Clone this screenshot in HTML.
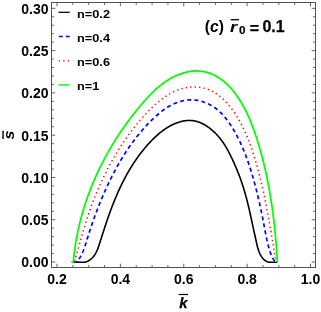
<!DOCTYPE html><html lang="en"><head><meta charset="utf-8"><title>plot</title><style>
html,body{margin:0;padding:0;background:#fff}
body{width:321px;height:312px;position:relative;overflow:hidden;font-family:"Liberation Sans",sans-serif;font-weight:bold;color:#000}
.t{position:absolute;white-space:nowrap;line-height:1;font-size:14px}
.yl{right:272.5px;text-align:right}
.lg{font-size:11px;left:77.3px;transform:scaleX(1.16);transform-origin:0 0}
#w{position:absolute;left:0;top:0;width:321px;height:312px;will-change:transform}
i{font-style:italic}

</style></head><body><div id="w">
<svg width="321" height="312" viewBox="0 0 321 312" style="position:absolute;left:0;top:0">
<g fill="none" stroke-linejoin="round">
<path d="M73.00 262.20L73.71 262.11L74.43 262.05L75.16 262.03L75.90 262.03L76.65 262.06L77.41 262.10L78.18 262.15L78.95 262.20L79.72 262.20L80.50 262.20L81.27 262.20L82.04 262.20L82.80 262.20L83.57 262.20L84.32 262.18L85.06 262.05L85.80 261.88L86.52 261.65L87.22 261.37L87.91 261.06L88.58 260.70L89.24 260.31L89.87 259.89L90.47 259.44L91.05 258.97L91.61 258.49L92.14 257.98L92.65 257.45L93.13 256.91L93.59 256.35L94.04 255.77L94.46 255.18L94.86 254.57L95.25 253.95L95.62 253.32L95.97 252.67L96.31 252.02L96.64 251.35L96.95 250.67L97.25 249.99L97.54 249.29L97.82 248.59L98.09 247.88L98.35 247.17L98.60 246.45L98.85 245.73L99.09 245.00L99.33 244.27L99.57 243.54L99.80 242.80L100.03 242.07L100.26 241.34L100.50 240.60L100.73 239.87L100.96 239.14L101.19 238.41L101.42 237.68L101.65 236.95L101.89 236.22L102.12 235.50L102.35 234.77L102.58 234.04L102.82 233.32L103.05 232.59L103.28 231.87L103.52 231.15L103.75 230.42L103.99 229.70L104.22 228.98L104.46 228.26L104.69 227.54L104.93 226.82L105.17 226.11L105.41 225.39L105.65 224.67L105.89 223.96L106.13 223.24L106.37 222.53L106.61 221.81L106.85 221.10L107.09 220.39L107.34 219.68L107.58 218.97L107.83 218.26L108.08 217.55L108.33 216.84L108.57 216.14L108.82 215.43L109.08 214.72L109.33 214.02L109.58 213.31L109.84 212.61L110.09 211.91L110.35 211.21L110.61 210.51L110.87 209.81L111.13 209.11L111.39 208.41L111.65 207.71L111.92 207.01L112.18 206.32L112.45 205.62L112.72 204.93L112.99 204.23L113.26 203.54L113.54 202.85L113.81 202.15L114.09 201.46L114.37 200.77L114.65 200.08L114.93 199.39L115.21 198.71L115.50 198.02L115.78 197.33L116.07 196.65L116.36 195.96L116.66 195.28L116.95 194.60L117.25 193.91L117.55 193.23L117.85 192.55L118.15 191.87L118.45 191.19L118.76 190.52L119.07 189.84L119.38 189.16L119.69 188.49L120.01 187.81L120.33 187.14L120.64 186.46L120.97 185.79L121.29 185.12L121.62 184.45L121.95 183.78L122.28 183.11L122.61 182.44L122.95 181.77L123.29 181.11L123.63 180.44L123.97 179.77L124.32 179.11L124.67 178.45L125.02 177.78L125.37 177.12L125.73 176.46L126.09 175.80L126.45 175.14L126.82 174.48L127.18 173.83L127.56 173.17L127.93 172.51L128.30 171.86L128.68 171.21L129.06 170.56L129.45 169.91L129.83 169.26L130.22 168.61L130.61 167.97L131.01 167.32L131.41 166.68L131.81 166.04L132.21 165.40L132.61 164.76L133.02 164.12L133.43 163.49L133.85 162.86L134.26 162.22L134.68 161.59L135.11 160.97L135.53 160.34L135.96 159.72L136.39 159.10L136.82 158.48L137.26 157.86L137.70 157.24L138.14 156.63L138.58 156.02L139.03 155.41L139.48 154.81L139.93 154.20L140.39 153.60L140.85 153.00L141.31 152.40L141.77 151.81L142.24 151.22L142.71 150.63L143.18 150.04L143.66 149.46L144.13 148.88L144.61 148.30L145.10 147.72L145.59 147.15L146.08 146.58L146.57 146.02L147.06 145.45L147.56 144.89L148.06 144.33L148.57 143.78L149.07 143.23L149.58 142.68L150.10 142.13L150.61 141.59L151.13 141.05L151.65 140.52L152.18 139.98L152.71 139.46L153.24 138.93L153.77 138.41L154.31 137.89L154.85 137.38L155.39 136.87L155.93 136.36L156.48 135.86L157.04 135.36L157.59 134.87L158.15 134.38L158.72 133.89L159.29 133.41L159.86 132.94L160.44 132.47L161.02 132.00L161.61 131.54L162.20 131.09L162.80 130.64L163.40 130.20L164.01 129.77L164.62 129.34L165.24 128.92L165.86 128.50L166.50 128.09L167.13 127.69L167.78 127.29L168.43 126.91L169.08 126.53L169.74 126.15L170.41 125.79L171.09 125.43L171.77 125.08L172.46 124.74L173.16 124.41L173.86 124.09L174.57 123.78L175.28 123.49L175.99 123.20L176.71 122.92L177.43 122.66L178.16 122.40L178.89 122.16L179.62 121.94L180.35 121.73L181.09 121.53L181.82 121.35L182.56 121.18L183.30 121.03L184.04 120.89L184.78 120.77L185.52 120.67L186.26 120.58L187.00 120.51L187.74 120.47L188.48 120.43L189.21 120.42L189.95 120.43L190.68 120.46L191.41 120.51L192.13 120.58L192.85 120.66L193.57 120.77L194.29 120.89L195.00 121.04L195.71 121.20L196.42 121.38L197.12 121.58L197.82 121.79L198.51 122.02L199.20 122.27L199.89 122.53L200.57 122.81L201.25 123.10L201.92 123.41L202.59 123.73L203.25 124.07L203.91 124.42L204.57 124.78L205.22 125.16L205.86 125.55L206.50 125.95L207.13 126.36L207.76 126.79L208.39 127.22L209.00 127.67L209.61 128.13L210.22 128.59L210.82 129.07L211.41 129.56L212.00 130.05L212.58 130.56L213.15 131.07L213.72 131.59L214.28 132.12L214.83 132.66L215.38 133.20L215.91 133.75L216.45 134.30L216.97 134.87L217.49 135.43L218.00 136.01L218.50 136.58L218.99 137.16L219.48 137.75L219.96 138.34L220.42 138.93L220.89 139.53L221.34 140.13L221.79 140.73L222.23 141.33L222.66 141.94L223.09 142.56L223.51 143.17L223.92 143.79L224.33 144.41L224.73 145.04L225.12 145.67L225.51 146.30L225.90 146.93L226.28 147.57L226.65 148.21L227.02 148.85L227.39 149.50L227.75 150.14L228.10 150.80L228.45 151.45L228.80 152.10L229.14 152.76L229.49 153.42L229.82 154.08L230.16 154.75L230.49 155.41L230.82 156.08L231.14 156.75L231.47 157.43L231.79 158.10L232.11 158.78L232.43 159.46L232.75 160.14L233.06 160.82L233.37 161.51L233.69 162.19L234.00 162.88L234.30 163.57L234.61 164.26L234.91 164.95L235.22 165.64L235.52 166.34L235.81 167.04L236.11 167.73L236.41 168.43L236.70 169.13L236.99 169.83L237.27 170.53L237.56 171.24L237.84 171.94L238.12 172.65L238.40 173.35L238.68 174.06L238.95 174.77L239.22 175.47L239.49 176.18L239.75 176.89L240.01 177.60L240.27 178.31L240.53 179.02L240.78 179.73L241.04 180.44L241.28 181.15L241.53 181.87L241.77 182.58L242.01 183.29L242.25 184.00L242.48 184.72L242.71 185.43L242.94 186.14L243.17 186.86L243.39 187.57L243.62 188.29L243.83 189.00L244.05 189.71L244.26 190.43L244.48 191.15L244.69 191.86L244.89 192.58L245.10 193.29L245.30 194.01L245.50 194.73L245.70 195.45L245.90 196.16L246.09 196.88L246.29 197.60L246.48 198.32L246.67 199.04L246.85 199.76L247.04 200.48L247.22 201.20L247.41 201.92L247.59 202.64L247.77 203.36L247.94 204.09L248.12 204.81L248.29 205.53L248.47 206.25L248.64 206.98L248.81 207.70L248.98 208.43L249.15 209.15L249.31 209.88L249.48 210.60L249.65 211.33L249.81 212.05L249.97 212.78L250.13 213.51L250.29 214.24L250.45 214.96L250.61 215.69L250.77 216.42L250.93 217.15L251.09 217.88L251.25 218.61L251.41 219.34L251.56 220.07L251.72 220.80L251.88 221.54L252.03 222.27L252.19 223.00L252.35 223.74L252.50 224.47L252.66 225.20L252.82 225.94L252.98 226.67L253.14 227.41L253.29 228.15L253.45 228.88L253.61 229.62L253.77 230.36L253.94 231.10L254.10 231.84L254.26 232.58L254.43 233.32L254.59 234.06L254.76 234.80L254.92 235.54L255.09 236.28L255.25 237.02L255.42 237.77L255.58 238.51L255.75 239.25L255.91 240.00L256.08 240.74L256.24 241.49L256.41 242.24L256.57 242.98L256.74 243.73L256.91 244.47L257.09 245.21L257.27 245.95L257.46 246.68L257.65 247.41L257.86 248.14L258.07 248.87L258.30 249.58L258.54 250.29L258.79 251.00L259.05 251.70L259.33 252.39L259.63 253.07L259.94 253.75L260.28 254.41L260.63 255.07L261.00 255.71L261.39 256.35L261.81 256.97L262.25 257.58L262.72 258.17L263.21 258.74L263.72 259.29L264.27 259.80L264.84 260.27L265.45 260.70L266.09 261.08L266.75 261.42L267.44 261.71L268.15 261.95L268.88 262.15L269.62 262.20L270.38 262.20L271.15 262.20L271.92 262.20L272.69 262.20L273.47 262.20L274.23 262.20L274.99 262.20L275.75 262.20L276.48 262.20L277.20 262.20" stroke="#000" stroke-width="1.6"/>
<path d="M75.90 262.20L76.53 261.30L77.12 260.77L77.67 260.24L78.20 259.69L78.69 259.13L79.16 258.55L79.60 257.97L80.02 257.37L80.42 256.76L80.79 256.14L81.15 255.51L81.48 254.88L81.81 254.23L82.12 253.57L82.42 252.91L82.70 252.23L82.99 251.55L83.26 250.87L83.53 250.17L83.79 249.48L84.05 248.77L84.30 248.06L84.55 247.35L84.80 246.63L85.04 245.91L85.28 245.18L85.51 244.45L85.75 243.72L85.98 242.99L86.21 242.26L86.44 241.52L86.66 240.79L86.89 240.05L87.11 239.32L87.34 238.58L87.56 237.85L87.79 237.12L88.02 236.39L88.24 235.66L88.47 234.94L88.70 234.21L88.93 233.49L89.16 232.77L89.39 232.05L89.62 231.33L89.85 230.62L90.09 229.90L90.32 229.19L90.56 228.47L90.79 227.76L91.03 227.05L91.27 226.34L91.51 225.64L91.75 224.93L91.99 224.23L92.23 223.52L92.47 222.82L92.72 222.11L92.96 221.41L93.21 220.71L93.46 220.01L93.71 219.31L93.95 218.61L94.21 217.91L94.46 217.22L94.71 216.52L94.97 215.82L95.22 215.13L95.48 214.43L95.74 213.73L96.00 213.04L96.26 212.34L96.52 211.65L96.78 210.95L97.05 210.26L97.31 209.56L97.58 208.87L97.85 208.17L98.12 207.48L98.39 206.78L98.67 206.09L98.94 205.39L99.22 204.70L99.50 204.00L99.77 203.31L100.05 202.61L100.34 201.92L100.62 201.23L100.91 200.53L101.19 199.84L101.48 199.15L101.77 198.46L102.06 197.76L102.35 197.07L102.65 196.38L102.94 195.69L103.24 195.00L103.54 194.31L103.84 193.62L104.14 192.93L104.44 192.24L104.75 191.55L105.05 190.86L105.36 190.18L105.67 189.49L105.98 188.80L106.29 188.12L106.61 187.43L106.92 186.75L107.24 186.06L107.56 185.38L107.88 184.70L108.20 184.02L108.52 183.34L108.85 182.66L109.17 181.98L109.50 181.30L109.83 180.62L110.16 179.94L110.50 179.27L110.83 178.59L111.17 177.92L111.51 177.24L111.85 176.57L112.19 175.90L112.53 175.23L112.88 174.56L113.22 173.89L113.57 173.22L113.92 172.55L114.27 171.88L114.62 171.22L114.98 170.55L115.34 169.89L115.69 169.23L116.05 168.57L116.42 167.91L116.78 167.25L117.14 166.59L117.51 165.94L117.88 165.28L118.25 164.63L118.62 163.97L119.00 163.32L119.37 162.67L119.75 162.02L120.13 161.38L120.51 160.73L120.89 160.08L121.28 159.44L121.66 158.80L122.05 158.16L122.44 157.52L122.83 156.88L123.23 156.24L123.62 155.61L124.02 154.97L124.42 154.34L124.82 153.71L125.23 153.08L125.63 152.45L126.04 151.82L126.45 151.20L126.86 150.57L127.28 149.95L127.69 149.33L128.11 148.71L128.53 148.09L128.95 147.47L129.38 146.86L129.81 146.24L130.23 145.63L130.67 145.02L131.10 144.41L131.53 143.81L131.97 143.20L132.41 142.60L132.85 141.99L133.30 141.39L133.74 140.79L134.19 140.20L134.64 139.60L135.10 139.01L135.55 138.41L136.01 137.82L136.47 137.23L136.93 136.65L137.40 136.06L137.86 135.48L138.33 134.90L138.81 134.32L139.28 133.74L139.76 133.16L140.24 132.59L140.72 132.01L141.20 131.44L141.69 130.87L142.18 130.31L142.67 129.74L143.16 129.18L143.66 128.62L144.16 128.06L144.66 127.50L145.17 126.94L145.67 126.39L146.18 125.84L146.70 125.29L147.21 124.74L147.73 124.20L148.25 123.65L148.77 123.11L149.30 122.57L149.82 122.03L150.36 121.50L150.89 120.96L151.43 120.43L151.96 119.90L152.51 119.37L153.05 118.85L153.60 118.33L154.15 117.81L154.70 117.29L155.26 116.78L155.82 116.27L156.38 115.76L156.95 115.25L157.52 114.76L158.09 114.26L158.66 113.77L159.24 113.28L159.83 112.80L160.41 112.33L161.01 111.86L161.60 111.39L162.20 110.93L162.80 110.48L163.41 110.03L164.02 109.59L164.63 109.16L165.25 108.73L165.87 108.31L166.50 107.90L167.13 107.49L167.77 107.10L168.41 106.71L169.05 106.33L169.70 105.95L170.36 105.59L171.02 105.24L171.68 104.89L172.35 104.55L173.03 104.23L173.71 103.91L174.39 103.60L175.08 103.31L175.78 103.02L176.48 102.75L177.18 102.48L177.89 102.23L178.61 101.99L179.33 101.76L180.05 101.54L180.77 101.34L181.50 101.14L182.24 100.96L182.97 100.79L183.71 100.64L184.45 100.50L185.19 100.37L185.94 100.25L186.68 100.15L187.43 100.07L188.18 99.99L188.93 99.94L189.68 99.89L190.42 99.86L191.17 99.85L191.92 99.85L192.67 99.87L193.41 99.91L194.16 99.96L194.90 100.02L195.64 100.10L196.38 100.20L197.12 100.31L197.86 100.44L198.59 100.58L199.32 100.73L200.05 100.90L200.77 101.08L201.49 101.28L202.21 101.49L202.93 101.72L203.64 101.95L204.34 102.20L205.04 102.46L205.74 102.74L206.43 103.03L207.12 103.33L207.80 103.64L208.48 103.96L209.15 104.30L209.82 104.64L210.48 105.00L211.13 105.37L211.78 105.75L212.42 106.14L213.06 106.54L213.68 106.95L214.30 107.37L214.92 107.80L215.52 108.24L216.12 108.69L216.71 109.15L217.29 109.61L217.87 110.09L218.44 110.57L219.00 111.07L219.55 111.57L220.09 112.08L220.63 112.59L221.16 113.12L221.69 113.65L222.21 114.18L222.72 114.73L223.22 115.28L223.72 115.84L224.22 116.40L224.70 116.97L225.18 117.55L225.66 118.13L226.13 118.72L226.59 119.31L227.05 119.91L227.50 120.51L227.94 121.12L228.39 121.73L228.82 122.35L229.25 122.97L229.68 123.59L230.10 124.22L230.52 124.85L230.93 125.49L231.34 126.13L231.74 126.77L232.14 127.41L232.53 128.06L232.92 128.70L233.31 129.35L233.69 130.01L234.07 130.66L234.45 131.31L234.82 131.97L235.19 132.63L235.56 133.29L235.92 133.95L236.28 134.61L236.63 135.27L236.98 135.94L237.33 136.60L237.67 137.27L238.02 137.94L238.35 138.61L238.69 139.28L239.02 139.96L239.35 140.63L239.68 141.31L240.00 141.98L240.32 142.66L240.63 143.34L240.95 144.02L241.26 144.70L241.56 145.38L241.87 146.07L242.17 146.75L242.47 147.44L242.77 148.13L243.06 148.82L243.35 149.51L243.64 150.20L243.92 150.89L244.21 151.58L244.49 152.28L244.76 152.97L245.04 153.67L245.31 154.36L245.58 155.06L245.85 155.76L246.11 156.46L246.37 157.16L246.63 157.86L246.89 158.57L247.15 159.27L247.40 159.97L247.65 160.68L247.90 161.39L248.15 162.09L248.39 162.80L248.64 163.51L248.88 164.22L249.12 164.93L249.35 165.64L249.59 166.35L249.82 167.07L250.05 167.78L250.28 168.49L250.51 169.21L250.73 169.92L250.96 170.64L251.18 171.36L251.40 172.07L251.62 172.79L251.83 173.51L252.05 174.23L252.26 174.95L252.47 175.67L252.68 176.39L252.89 177.11L253.10 177.84L253.31 178.56L253.51 179.28L253.72 180.01L253.92 180.73L254.12 181.46L254.32 182.18L254.52 182.91L254.71 183.63L254.91 184.36L255.10 185.09L255.30 185.81L255.49 186.54L255.68 187.27L255.87 188.00L256.05 188.73L256.24 189.46L256.42 190.19L256.61 190.92L256.79 191.65L256.97 192.38L257.15 193.11L257.33 193.84L257.51 194.57L257.69 195.30L257.86 196.04L258.04 196.77L258.21 197.50L258.38 198.23L258.55 198.97L258.72 199.70L258.89 200.43L259.06 201.17L259.23 201.90L259.39 202.63L259.56 203.37L259.72 204.10L259.88 204.84L260.04 205.57L260.20 206.30L260.36 207.04L260.52 207.77L260.68 208.51L260.84 209.24L260.99 209.98L261.15 210.71L261.30 211.45L261.45 212.18L261.60 212.91L261.76 213.65L261.91 214.38L262.06 215.12L262.20 215.85L262.35 216.59L262.50 217.32L262.64 218.06L262.79 218.79L262.93 219.52L263.08 220.26L263.22 220.99L263.36 221.72L263.50 222.46L263.65 223.19L263.79 223.92L263.92 224.66L264.06 225.39L264.20 226.12L264.34 226.85L264.48 227.58L264.61 228.32L264.75 229.05L264.89 229.78L265.02 230.51L265.16 231.24L265.30 231.97L265.44 232.70L265.58 233.43L265.73 234.16L265.87 234.89L266.02 235.63L266.17 236.36L266.32 237.09L266.47 237.82L266.63 238.55L266.78 239.28L266.95 240.01L267.11 240.74L267.28 241.47L267.45 242.20L267.62 242.93L267.80 243.66L267.99 244.39L268.17 245.12L268.36 245.85L268.56 246.58L268.76 247.31L268.97 248.04L269.18 248.77L269.39 249.51L269.62 250.24L269.85 250.97L270.08 251.70L270.32 252.43L270.57 253.16L270.82 253.90L271.08 254.63L271.36 255.35L271.65 256.06L271.96 256.76L272.29 257.45L272.64 258.12L273.02 258.76L273.43 259.38L273.87 259.97L274.35 260.53L274.87 261.05L275.43 261.54L276.04 261.98L276.69 262.20L277.39 262.20" stroke="#0000ff" stroke-width="1.7" stroke-dasharray="4.000 3.146" stroke-dashoffset="2.901"/>
<path d="M74.32 262.20L74.53 261.28L74.74 260.56L74.95 259.85L75.16 259.13L75.37 258.41L75.58 257.69L75.79 256.97L76.00 256.25L76.20 255.53L76.41 254.80L76.62 254.08L76.82 253.36L77.03 252.64L77.24 251.92L77.44 251.20L77.65 250.48L77.85 249.76L78.06 249.04L78.26 248.32L78.47 247.59L78.67 246.87L78.88 246.15L79.08 245.43L79.29 244.71L79.49 243.99L79.70 243.27L79.90 242.55L80.11 241.82L80.31 241.10L80.52 240.38L80.72 239.66L80.93 238.94L81.14 238.22L81.35 237.50L81.55 236.78L81.76 236.06L81.97 235.34L82.18 234.62L82.39 233.90L82.60 233.17L82.81 232.46L83.02 231.74L83.24 231.02L83.45 230.30L83.66 229.58L83.88 228.86L84.09 228.14L84.31 227.42L84.53 226.70L84.75 225.98L84.96 225.27L85.18 224.55L85.41 223.83L85.63 223.12L85.85 222.40L86.08 221.68L86.30 220.97L86.53 220.25L86.76 219.54L86.99 218.82L87.22 218.11L87.45 217.39L87.68 216.68L87.92 215.96L88.15 215.25L88.39 214.54L88.63 213.83L88.87 213.11L89.11 212.40L89.36 211.69L89.60 210.98L89.85 210.27L90.10 209.56L90.35 208.85L90.60 208.14L90.85 207.43L91.11 206.73L91.37 206.02L91.62 205.31L91.89 204.61L92.15 203.90L92.41 203.20L92.68 202.49L92.94 201.79L93.21 201.08L93.48 200.38L93.76 199.68L94.03 198.98L94.31 198.28L94.58 197.58L94.86 196.88L95.14 196.18L95.43 195.48L95.71 194.78L96.00 194.08L96.29 193.39L96.57 192.69L96.87 192.00L97.16 191.30L97.45 190.61L97.75 189.92L98.05 189.22L98.34 188.53L98.65 187.84L98.95 187.15L99.25 186.46L99.56 185.77L99.86 185.09L100.17 184.40L100.48 183.71L100.80 183.03L101.11 182.34L101.42 181.66L101.74 180.98L102.06 180.30L102.38 179.62L102.70 178.94L103.03 178.26L103.35 177.58L103.68 176.90L104.01 176.23L104.34 175.55L104.67 174.88L105.00 174.20L105.33 173.53L105.67 172.86L106.01 172.19L106.35 171.52L106.69 170.85L107.03 170.18L107.37 169.52L107.72 168.85L108.07 168.19L108.41 167.52L108.76 166.86L109.12 166.20L109.47 165.54L109.82 164.88L110.18 164.22L110.54 163.56L110.90 162.91L111.26 162.25L111.62 161.60L111.98 160.95L112.35 160.30L112.72 159.65L113.09 159.00L113.46 158.35L113.83 157.70L114.20 157.06L114.57 156.41L114.95 155.77L115.33 155.13L115.71 154.49L116.09 153.85L116.47 153.21L116.86 152.57L117.24 151.93L117.63 151.30L118.02 150.66L118.41 150.03L118.81 149.40L119.20 148.77L119.60 148.14L120.00 147.51L120.40 146.88L120.80 146.26L121.21 145.63L121.61 145.01L122.02 144.38L122.43 143.76L122.84 143.14L123.25 142.52L123.67 141.90L124.09 141.28L124.51 140.67L124.93 140.05L125.35 139.44L125.78 138.83L126.20 138.21L126.63 137.60L127.06 136.99L127.50 136.38L127.93 135.78L128.37 135.17L128.81 134.56L129.25 133.96L129.69 133.36L130.14 132.76L130.59 132.15L131.04 131.55L131.49 130.96L131.94 130.36L132.40 129.76L132.86 129.17L133.32 128.57L133.78 127.98L134.25 127.39L134.72 126.79L135.19 126.20L135.66 125.62L136.14 125.03L136.61 124.44L137.09 123.85L137.57 123.27L138.06 122.69L138.54 122.10L139.03 121.52L139.52 120.94L140.02 120.36L140.51 119.78L141.01 119.21L141.51 118.63L142.01 118.06L142.52 117.48L143.03 116.91L143.54 116.34L144.05 115.77L144.57 115.20L145.09 114.63L145.61 114.06L146.13 113.50L146.66 112.94L147.19 112.38L147.72 111.82L148.25 111.26L148.79 110.71L149.33 110.16L149.87 109.61L150.41 109.07L150.96 108.53L151.51 107.99L152.06 107.45L152.62 106.92L153.18 106.40L153.74 105.87L154.30 105.35L154.87 104.84L155.44 104.33L156.01 103.82L156.58 103.32L157.16 102.82L157.74 102.33L158.33 101.84L158.91 101.36L159.50 100.88L160.09 100.41L160.69 99.94L161.29 99.48L161.89 99.03L162.49 98.58L163.10 98.14L163.71 97.70L164.32 97.27L164.94 96.85L165.56 96.43L166.18 96.02L166.80 95.62L167.43 95.22L168.06 94.83L168.70 94.45L169.34 94.08L169.98 93.72L170.62 93.36L171.27 93.01L171.92 92.67L172.57 92.34L173.23 92.01L173.89 91.70L174.55 91.39L175.22 91.09L175.89 90.80L176.56 90.52L177.23 90.25L177.91 89.99L178.60 89.74L179.28 89.50L179.97 89.27L180.66 89.04L181.36 88.83L182.06 88.63L182.76 88.44L183.47 88.26L184.18 88.09L184.89 87.93L185.61 87.79L186.33 87.65L187.05 87.53L187.78 87.41L188.51 87.31L189.24 87.22L189.97 87.15L190.71 87.08L191.45 87.03L192.19 86.99L192.93 86.96L193.67 86.95L194.41 86.94L195.15 86.95L195.89 86.98L196.64 87.02L197.38 87.07L198.12 87.14L198.86 87.22L199.60 87.31L200.34 87.42L201.07 87.54L201.80 87.68L202.53 87.83L203.26 87.99L203.99 88.17L204.71 88.36L205.43 88.57L206.14 88.79L206.85 89.02L207.55 89.27L208.25 89.53L208.95 89.80L209.64 90.09L210.32 90.38L211.00 90.70L211.68 91.02L212.34 91.36L213.00 91.71L213.65 92.07L214.30 92.44L214.94 92.83L215.57 93.23L216.20 93.63L216.82 94.05L217.44 94.48L218.04 94.92L218.65 95.37L219.24 95.83L219.83 96.30L220.41 96.78L220.99 97.27L221.56 97.76L222.13 98.27L222.69 98.78L223.24 99.30L223.79 99.83L224.33 100.36L224.87 100.90L225.40 101.45L225.92 102.01L226.44 102.57L226.95 103.13L227.46 103.71L227.96 104.28L228.46 104.87L228.95 105.45L229.44 106.04L229.92 106.64L230.40 107.24L230.87 107.84L231.33 108.45L231.79 109.06L232.25 109.67L232.69 110.29L233.14 110.90L233.58 111.52L234.01 112.14L234.44 112.77L234.87 113.40L235.29 114.03L235.70 114.66L236.12 115.29L236.52 115.93L236.92 116.57L237.32 117.21L237.71 117.85L238.10 118.50L238.48 119.14L238.86 119.79L239.24 120.44L239.61 121.10L239.98 121.75L240.34 122.41L240.70 123.07L241.05 123.73L241.40 124.40L241.75 125.06L242.09 125.73L242.43 126.40L242.77 127.07L243.10 127.74L243.43 128.42L243.75 129.09L244.07 129.77L244.39 130.45L244.70 131.13L245.01 131.81L245.32 132.50L245.62 133.18L245.93 133.87L246.22 134.56L246.52 135.25L246.81 135.94L247.10 136.63L247.38 137.32L247.66 138.02L247.94 138.71L248.22 139.41L248.49 140.11L248.76 140.81L249.03 141.51L249.30 142.21L249.56 142.92L249.82 143.62L250.08 144.32L250.33 145.03L250.59 145.74L250.84 146.45L251.09 147.15L251.33 147.86L251.58 148.57L251.82 149.28L252.06 150.00L252.30 150.71L252.53 151.42L252.77 152.14L253.00 152.85L253.23 153.57L253.46 154.28L253.68 155.00L253.91 155.72L254.13 156.43L254.35 157.15L254.57 157.87L254.79 158.59L255.01 159.31L255.23 160.03L255.44 160.74L255.65 161.46L255.86 162.18L256.08 162.91L256.28 163.63L256.49 164.35L256.70 165.07L256.90 165.79L257.11 166.51L257.31 167.24L257.51 167.96L257.71 168.68L257.91 169.41L258.10 170.13L258.30 170.86L258.49 171.58L258.69 172.31L258.88 173.03L259.07 173.76L259.26 174.48L259.44 175.21L259.63 175.94L259.82 176.66L260.00 177.39L260.18 178.12L260.37 178.85L260.55 179.57L260.73 180.30L260.91 181.03L261.08 181.76L261.26 182.49L261.43 183.22L261.61 183.95L261.78 184.68L261.95 185.41L262.12 186.14L262.29 186.87L262.46 187.60L262.63 188.33L262.80 189.07L262.96 189.80L263.13 190.53L263.29 191.26L263.45 192.00L263.61 192.73L263.77 193.46L263.93 194.20L264.09 194.93L264.25 195.66L264.41 196.40L264.56 197.13L264.72 197.87L264.87 198.60L265.02 199.33L265.18 200.07L265.33 200.81L265.48 201.54L265.63 202.28L265.78 203.01L265.93 203.75L266.07 204.48L266.22 205.22L266.36 205.96L266.51 206.69L266.65 207.43L266.80 208.17L266.94 208.91L267.08 209.64L267.22 210.38L267.36 211.12L267.50 211.86L267.64 212.60L267.78 213.33L267.92 214.07L268.05 214.81L268.19 215.55L268.33 216.29L268.46 217.03L268.60 217.77L268.73 218.51L268.86 219.25L268.99 219.99L269.13 220.72L269.26 221.46L269.39 222.20L269.52 222.94L269.65 223.68L269.78 224.42L269.91 225.16L270.03 225.91L270.16 226.65L270.29 227.39L270.42 228.13L270.54 228.87L270.67 229.61L270.79 230.35L270.92 231.09L271.04 231.83L271.17 232.57L271.29 233.31L271.41 234.06L271.54 234.80L271.66 235.54L271.78 236.28L271.90 237.02L272.02 237.76L272.14 238.50L272.26 239.25L272.39 239.99L272.51 240.73L272.62 241.47L272.74 242.21L272.86 242.96L272.98 243.70L273.10 244.44L273.22 245.18L273.34 245.92L273.46 246.67L273.57 247.41L273.69 248.15L273.81 248.89L273.93 249.63L274.04 250.38L274.16 251.12L274.28 251.86L274.39 252.60L274.51 253.34L274.63 254.08L274.74 254.83L274.86 255.57L274.97 256.31L275.09 257.05L275.21 257.79L275.32 258.54L275.44 259.28L275.55 260.02L275.67 260.76L275.78 262.20" stroke="#ff0000" stroke-width="1.5" stroke-dasharray="1.300 3.163" stroke-dashoffset="3.697"/>
<path d="M71.30 262.20L73.30 262.20L73.37 261.45L73.44 260.70L73.51 259.94L73.58 259.19L73.66 258.43L73.74 257.68L73.82 256.93L73.90 256.17L73.98 255.42L74.07 254.67L74.16 253.92L74.25 253.17L74.34 252.42L74.44 251.67L74.54 250.92L74.64 250.17L74.74 249.42L74.84 248.68L74.95 247.93L75.06 247.18L75.17 246.44L75.28 245.69L75.39 244.95L75.51 244.20L75.63 243.46L75.75 242.72L75.87 241.97L76.00 241.23L76.13 240.49L76.25 239.75L76.39 239.01L76.52 238.27L76.66 237.53L76.79 236.79L76.93 236.05L77.08 235.32L77.22 234.58L77.37 233.84L77.52 233.11L77.67 232.37L77.82 231.64L77.97 230.90L78.13 230.17L78.29 229.44L78.45 228.70L78.61 227.97L78.78 227.24L78.94 226.51L79.11 225.78L79.29 225.05L79.46 224.32L79.63 223.60L79.81 222.87L79.99 222.14L80.17 221.42L80.36 220.69L80.54 219.97L80.73 219.24L80.92 218.52L81.11 217.80L81.30 217.07L81.50 216.35L81.70 215.63L81.89 214.91L82.10 214.19L82.30 213.47L82.51 212.75L82.71 212.04L82.92 211.32L83.13 210.60L83.35 209.89L83.56 209.17L83.78 208.46L84.00 207.74L84.22 207.03L84.44 206.32L84.67 205.61L84.90 204.89L85.13 204.18L85.36 203.47L85.59 202.76L85.82 202.06L86.06 201.35L86.30 200.64L86.54 199.94L86.78 199.23L87.03 198.52L87.28 197.82L87.52 197.12L87.77 196.41L88.03 195.71L88.28 195.01L88.54 194.31L88.79 193.61L89.05 192.91L89.32 192.21L89.58 191.51L89.85 190.82L90.11 190.12L90.38 189.43L90.65 188.73L90.93 188.04L91.20 187.34L91.48 186.65L91.76 185.96L92.04 185.27L92.32 184.58L92.60 183.89L92.89 183.20L93.18 182.51L93.47 181.82L93.76 181.13L94.05 180.45L94.35 179.76L94.65 179.08L94.95 178.39L95.25 177.71L95.55 177.03L95.85 176.35L96.16 175.67L96.47 174.99L96.78 174.31L97.09 173.63L97.40 172.95L97.72 172.28L98.03 171.60L98.35 170.92L98.67 170.25L99.00 169.58L99.32 168.90L99.65 168.23L99.97 167.56L100.30 166.89L100.63 166.22L100.97 165.55L101.30 164.88L101.64 164.22L101.98 163.55L102.32 162.88L102.66 162.22L103.00 161.55L103.35 160.89L103.70 160.23L104.04 159.57L104.39 158.91L104.75 158.25L105.10 157.59L105.46 156.93L105.81 156.27L106.17 155.62L106.53 154.96L106.90 154.31L107.26 153.65L107.63 153.00L107.99 152.35L108.36 151.69L108.73 151.04L109.11 150.39L109.48 149.75L109.86 149.10L110.23 148.45L110.61 147.80L110.99 147.16L111.38 146.51L111.76 145.87L112.15 145.23L112.54 144.59L112.92 143.94L113.32 143.30L113.71 142.67L114.10 142.03L114.50 141.39L114.90 140.75L115.29 140.12L115.70 139.48L116.10 138.85L116.50 138.22L116.91 137.58L117.31 136.95L117.72 136.32L118.13 135.69L118.55 135.06L118.96 134.44L119.37 133.81L119.79 133.19L120.21 132.56L120.63 131.94L121.05 131.31L121.47 130.69L121.90 130.07L122.33 129.45L122.75 128.83L123.18 128.21L123.61 127.60L124.05 126.98L124.48 126.36L124.92 125.75L125.35 125.14L125.79 124.52L126.23 123.91L126.67 123.30L127.12 122.69L127.56 122.08L128.01 121.48L128.46 120.87L128.91 120.26L129.36 119.66L129.81 119.05L130.26 118.45L130.72 117.85L131.18 117.25L131.64 116.65L132.10 116.05L132.56 115.45L133.02 114.86L133.48 114.26L133.95 113.66L134.42 113.07L134.89 112.48L135.36 111.89L135.83 111.29L136.30 110.70L136.78 110.12L137.25 109.53L137.73 108.94L138.21 108.35L138.69 107.77L139.17 107.19L139.66 106.60L140.14 106.02L140.63 105.44L141.12 104.86L141.61 104.28L142.10 103.71L142.59 103.13L143.08 102.56L143.58 101.98L144.08 101.41L144.58 100.84L145.08 100.28L145.59 99.71L146.09 99.15L146.60 98.59L147.11 98.03L147.62 97.48L148.14 96.93L148.65 96.38L149.17 95.83L149.70 95.28L150.22 94.74L150.75 94.20L151.28 93.67L151.81 93.14L152.35 92.61L152.88 92.09L153.42 91.56L153.97 91.05L154.51 90.53L155.06 90.02L155.62 89.52L156.17 89.02L156.73 88.52L157.29 88.03L157.86 87.54L158.43 87.06L159.00 86.58L159.58 86.10L160.16 85.63L160.74 85.17L161.32 84.71L161.91 84.26L162.51 83.81L163.11 83.36L163.71 82.93L164.31 82.49L164.92 82.07L165.53 81.65L166.15 81.23L166.77 80.82L167.40 80.42L168.03 80.02L168.66 79.63L169.30 79.25L169.94 78.87L170.59 78.50L171.24 78.14L171.90 77.78L172.56 77.43L173.23 77.09L173.90 76.75L174.57 76.42L175.25 76.10L175.94 75.79L176.62 75.48L177.32 75.18L178.02 74.89L178.72 74.61L179.42 74.34L180.13 74.07L180.84 73.82L181.56 73.57L182.28 73.34L183.00 73.11L183.72 72.89L184.45 72.69L185.18 72.49L185.91 72.31L186.64 72.13L187.38 71.97L188.11 71.82L188.85 71.67L189.59 71.55L190.33 71.43L191.07 71.33L191.81 71.23L192.55 71.15L193.29 71.09L194.03 71.03L194.78 70.99L195.52 70.97L196.26 70.95L197.00 70.95L197.73 70.97L198.47 71.00L199.21 71.04L199.94 71.10L200.67 71.18L201.41 71.27L202.13 71.37L202.86 71.49L203.59 71.62L204.31 71.76L205.03 71.92L205.74 72.09L206.46 72.28L207.17 72.47L207.88 72.68L208.58 72.91L209.28 73.14L209.98 73.39L210.67 73.65L211.36 73.92L212.04 74.21L212.72 74.50L213.40 74.81L214.07 75.13L214.74 75.46L215.40 75.80L216.05 76.15L216.70 76.51L217.35 76.88L217.99 77.26L218.62 77.65L219.25 78.05L219.87 78.46L220.49 78.88L221.10 79.31L221.70 79.75L222.30 80.20L222.89 80.65L223.48 81.12L224.06 81.59L224.63 82.07L225.20 82.56L225.76 83.05L226.31 83.55L226.86 84.07L227.40 84.58L227.94 85.11L228.47 85.64L229.00 86.18L229.52 86.72L230.04 87.27L230.55 87.83L231.05 88.39L231.55 88.96L232.04 89.53L232.53 90.11L233.01 90.69L233.49 91.28L233.96 91.88L234.43 92.47L234.89 93.08L235.35 93.68L235.80 94.29L236.25 94.91L236.69 95.53L237.12 96.15L237.56 96.77L237.98 97.40L238.41 98.03L238.82 98.66L239.24 99.30L239.65 99.94L240.05 100.58L240.45 101.22L240.84 101.87L241.23 102.51L241.62 103.16L242.00 103.81L242.38 104.47L242.75 105.12L243.12 105.78L243.49 106.44L243.85 107.10L244.20 107.76L244.56 108.43L244.90 109.09L245.25 109.76L245.59 110.43L245.93 111.10L246.26 111.78L246.59 112.45L246.92 113.13L247.24 113.80L247.56 114.48L247.88 115.17L248.19 115.85L248.50 116.53L248.80 117.22L249.11 117.91L249.41 118.59L249.70 119.28L249.99 119.97L250.28 120.67L250.57 121.36L250.86 122.06L251.14 122.75L251.42 123.45L251.69 124.15L251.96 124.85L252.23 125.55L252.50 126.25L252.77 126.95L253.03 127.65L253.29 128.36L253.55 129.06L253.80 129.77L254.05 130.48L254.31 131.18L254.55 131.89L254.80 132.60L255.04 133.31L255.29 134.02L255.53 134.74L255.76 135.45L256.00 136.16L256.23 136.87L256.47 137.59L256.70 138.30L256.93 139.02L257.15 139.73L257.38 140.45L257.60 141.16L257.83 141.88L258.05 142.60L258.27 143.32L258.48 144.03L258.70 144.75L258.92 145.47L259.13 146.19L259.34 146.91L259.55 147.63L259.76 148.35L259.97 149.07L260.17 149.79L260.38 150.51L260.58 151.23L260.78 151.95L260.98 152.68L261.18 153.40L261.38 154.12L261.57 154.85L261.76 155.57L261.96 156.29L262.15 157.02L262.34 157.74L262.53 158.47L262.71 159.19L262.90 159.92L263.08 160.65L263.26 161.37L263.44 162.10L263.62 162.83L263.80 163.55L263.98 164.28L264.15 165.01L264.33 165.74L264.50 166.47L264.67 167.20L264.84 167.92L265.01 168.65L265.18 169.38L265.34 170.11L265.51 170.85L265.67 171.58L265.83 172.31L265.99 173.04L266.15 173.77L266.31 174.50L266.47 175.24L266.62 175.97L266.78 176.70L266.93 177.43L267.08 178.17L267.23 178.90L267.38 179.64L267.53 180.37L267.68 181.10L267.82 181.84L267.97 182.57L268.11 183.31L268.25 184.05L268.39 184.78L268.53 185.52L268.67 186.25L268.80 186.99L268.94 187.73L269.07 188.46L269.21 189.20L269.34 189.94L269.47 190.68L269.60 191.42L269.73 192.15L269.85 192.89L269.98 193.63L270.10 194.37L270.23 195.11L270.35 195.85L270.47 196.59L270.59 197.33L270.71 198.07L270.83 198.81L270.95 199.55L271.06 200.29L271.18 201.03L271.29 201.77L271.40 202.51L271.51 203.25L271.63 203.99L271.73 204.74L271.84 205.48L271.95 206.22L272.06 206.96L272.16 207.70L272.27 208.45L272.37 209.19L272.47 209.93L272.57 210.68L272.67 211.42L272.77 212.16L272.87 212.91L272.97 213.65L273.06 214.39L273.16 215.14L273.25 215.88L273.34 216.63L273.44 217.37L273.53 218.12L273.62 218.86L273.71 219.61L273.79 220.35L273.88 221.10L273.97 221.84L274.05 222.59L274.14 223.33L274.22 224.08L274.30 224.82L274.39 225.57L274.47 226.31L274.55 227.06L274.63 227.81L274.70 228.55L274.78 229.30L274.86 230.05L274.93 230.79L275.01 231.54L275.08 232.29L275.16 233.03L275.23 233.78L275.30 234.53L275.37 235.27L275.44 236.02L275.51 236.77L275.58 237.52L275.64 238.26L275.71 239.01L275.78 239.76L275.84 240.51L275.90 241.25L275.97 242.00L276.03 242.75L276.09 243.50L276.15 244.24L276.21 244.99L276.27 245.74L276.33 246.49L276.39 247.24L276.45 247.98L276.50 248.73L276.56 249.48L276.61 250.23L276.67 250.98L276.72 251.72L276.78 252.47L276.83 253.22L276.88 253.97L276.93 254.72L276.98 255.47L277.03 256.21L277.08 256.96L277.13 257.71L277.17 258.46L277.22 259.21L277.27 259.96L277.31 260.70L277.36 261.45L277.40 262.20" stroke="#00ff00" stroke-width="1.75"/>
</g>
<rect x="51.5" y="2.5" width="264.0" height="265.0" fill="none" stroke="#525252" stroke-width="1"/>
<path d="M57.00 267.50v-3.80M57.00 2.50v3.80M72.84 267.50v-2.40M72.84 2.50v2.40M88.69 267.50v-2.40M88.69 2.50v2.40M104.53 267.50v-2.40M104.53 2.50v2.40M120.38 267.50v-3.80M120.38 2.50v3.80M136.22 267.50v-2.40M136.22 2.50v2.40M152.07 267.50v-2.40M152.07 2.50v2.40M167.92 267.50v-2.40M167.92 2.50v2.40M183.76 267.50v-3.80M183.76 2.50v3.80M199.60 267.50v-2.40M199.60 2.50v2.40M215.45 267.50v-2.40M215.45 2.50v2.40M231.29 267.50v-2.40M231.29 2.50v2.40M247.14 267.50v-3.80M247.14 2.50v3.80M262.99 267.50v-2.40M262.99 2.50v2.40M278.83 267.50v-2.40M278.83 2.50v2.40M294.67 267.50v-2.40M294.67 2.50v2.40M310.52 267.50v-3.80M310.52 2.50v3.80M51.50 262.00h3.80M315.50 262.00h-3.80M51.50 253.54h2.40M315.50 253.54h-2.40M51.50 245.09h2.40M315.50 245.09h-2.40M51.50 236.63h2.40M315.50 236.63h-2.40M51.50 228.18h2.40M315.50 228.18h-2.40M51.50 219.72h3.80M315.50 219.72h-3.80M51.50 211.26h2.40M315.50 211.26h-2.40M51.50 202.81h2.40M315.50 202.81h-2.40M51.50 194.35h2.40M315.50 194.35h-2.40M51.50 185.90h2.40M315.50 185.90h-2.40M51.50 177.44h3.80M315.50 177.44h-3.80M51.50 168.98h2.40M315.50 168.98h-2.40M51.50 160.53h2.40M315.50 160.53h-2.40M51.50 152.07h2.40M315.50 152.07h-2.40M51.50 143.62h2.40M315.50 143.62h-2.40M51.50 135.16h3.80M315.50 135.16h-3.80M51.50 126.70h2.40M315.50 126.70h-2.40M51.50 118.25h2.40M315.50 118.25h-2.40M51.50 109.79h2.40M315.50 109.79h-2.40M51.50 101.34h2.40M315.50 101.34h-2.40M51.50 92.88h3.80M315.50 92.88h-3.80M51.50 84.42h2.40M315.50 84.42h-2.40M51.50 75.97h2.40M315.50 75.97h-2.40M51.50 67.51h2.40M315.50 67.51h-2.40M51.50 59.06h2.40M315.50 59.06h-2.40M51.50 50.60h3.80M315.50 50.60h-3.80M51.50 42.14h2.40M315.50 42.14h-2.40M51.50 33.69h2.40M315.50 33.69h-2.40M51.50 25.23h2.40M315.50 25.23h-2.40M51.50 16.78h2.40M315.50 16.78h-2.40M51.50 8.32h3.80M315.50 8.32h-3.80" fill="none" stroke="#525252" stroke-width="0.9"/>
<g fill="none">
<path d="M58.4 12.3H69.8" stroke="#000" stroke-width="1.25"/>
<path d="M58.9 36.5H69.7" stroke="#0000ff" stroke-width="1.35" stroke-dasharray="3.9 3.0"/>
<path d="M58.85 60.8H69.8" stroke="#ff0000" stroke-width="1.6" stroke-dasharray="1.1 3.4"/>
<path d="M58.4 84.9H69.8" stroke="#00ff00" stroke-width="1.4"/>
</g>
<path d="M178.7 294.5H188.1" stroke="#000" stroke-width="1.2"/>
<path d="M230.8 19.7H239" stroke="#000" stroke-width="1.3"/>
<path d="M3.05 130.8V139" stroke="#000" stroke-width="1.4"/>
</svg>
<div class="t yl" style="top:255.0px">0.00</div>
<div class="t yl" style="top:213.0px">0.05</div>
<div class="t yl" style="top:171.0px">0.10</div>
<div class="t yl" style="top:129.0px">0.15</div>
<div class="t yl" style="top:86.0px">0.20</div>
<div class="t yl" style="top:44.0px">0.25</div>
<div class="t yl" style="top:2.0px">0.30</div>
<div class="t" style="left:47.27px;top:271.9px">0.2</div>
<div class="t" style="left:110.65px;top:271.9px">0.4</div>
<div class="t" style="left:174.03px;top:271.9px">0.6</div>
<div class="t" style="left:237.41px;top:271.9px">0.8</div>
<div class="t" style="left:300.79px;top:271.9px">1.0</div>
<div class="t lg" style="top:8.8px">n=0.2</div>
<div class="t lg" style="top:33.0px">n=0.4</div>
<div class="t lg" style="top:57.1px">n=0.6</div>
<div class="t lg" style="top:81.3px">n=1</div>
<div class="t" style="left:204.7px;top:18.61px;font-size:15.7px">(<i>c</i>)</div>
<div class="t" style="left:230.0px;top:18.68px;font-size:15.5px;transform:scaleX(1.18);transform-origin:0 0"><i>r</i></div>
<div class="t" style="left:239.2px;top:25.40px;font-size:10.6px;transform:scaleX(1.1);transform-origin:0 0;-webkit-text-stroke:0.2px #000">0</div>
<div class="t" style="left:249.7px;top:20.60px;font-size:16px;-webkit-text-stroke:0.25px #000">=</div>
<div class="t" style="left:262.4px;top:19.40px;font-size:16px;-webkit-text-stroke:0.25px #000">0.1</div>
<div class="t" style="left:179.2px;top:296.2px;font-size:14.8px;-webkit-text-stroke:0.25px #000"><i>k</i></div>
<div class="t" style="left:-1.1px;top:127.9px;width:20px;height:14px;font-size:14px;line-height:14px;transform:rotate(-90deg) scaleX(1.15);transform-origin:10px 7px;text-align:center"><i>s</i></div>
</div></body></html>
